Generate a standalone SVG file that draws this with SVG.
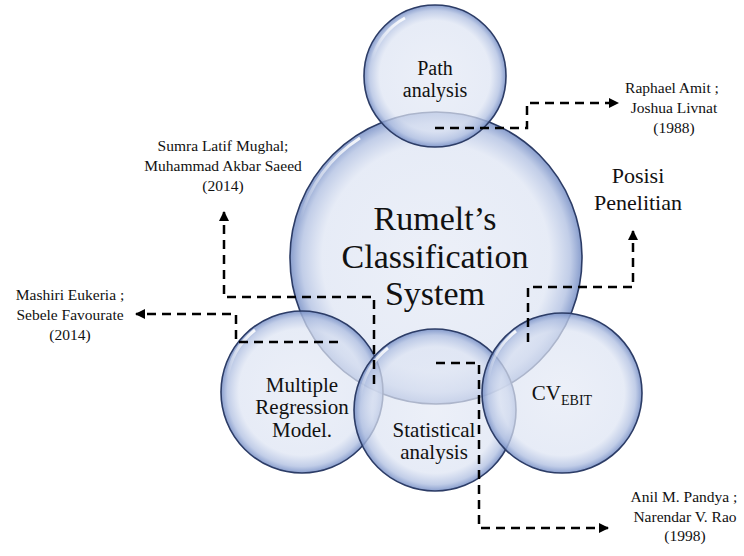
<svg xmlns="http://www.w3.org/2000/svg" width="744" height="556" viewBox="0 0 744 556">
<defs>
<radialGradient id="bub" cx="0.5" cy="0.5" r="0.5">
<stop offset="0" stop-color="#e4e9f5" stop-opacity="0.7"/>
<stop offset="0.78" stop-color="#dde4f3" stop-opacity="0.72"/>
<stop offset="0.92" stop-color="#b2c1e2" stop-opacity="0.8"/>
<stop offset="1" stop-color="#7890c6" stop-opacity="0.88"/>
</radialGradient>
<linearGradient id="hl" x1="0" y1="0" x2="0" y2="1">
<stop offset="0" stop-color="#ffffff" stop-opacity="0.9"/>
<stop offset="1" stop-color="#ffffff" stop-opacity="0"/>
</linearGradient>
<marker id="arr" viewBox="0 0 10 10" refX="9" refY="5" markerWidth="4" markerHeight="4" orient="auto" markerUnits="strokeWidth">
<path d="M0,0 L10,5 L0,10 z" fill="#000"/>
</marker>
</defs>
<style>
.c{fill:url(#bub);stroke:#2c3c66;stroke-width:1.6}
.h{fill:none;stroke:url(#hl);stroke-width:3}
text{font-family:'Liberation Serif','Times New Roman',serif;fill:#111;text-anchor:middle}
.lab{font-size:15.5px}
.d{fill:none;stroke:#000;stroke-width:2.5;stroke-dasharray:9,6}
</style>
<rect width="744" height="556" fill="#fff"/>
<g id="node-rumelt">
<circle class="c" cx="436" cy="258" r="146"/>
<path class="h" d="M300,220 A140,140 0 0 1 360,138"/>
<text font-size="34" x="435" y="230">Rumelt’s</text>
<text font-size="34" x="435" y="267.5">Classification</text>
<text font-size="34" x="435" y="305">System</text>
</g>
<g id="node-path">
<circle class="c" cx="435" cy="76" r="71"/>
<path class="h" d="M372,60 A66,66 0 0 1 405,18"/>
<text font-size="20" x="435" y="75">Path</text>
<text font-size="20" x="435" y="97">analysis</text>
</g>
<g id="node-mrm">
<circle class="c" cx="302" cy="392" r="81"/>
<path class="h" d="M227,380 A76,76 0 0 1 255,330"/>
<text font-size="21" x="302" y="392">Multiple</text>
<text font-size="21" x="302" y="414">Regression</text>
<text font-size="21" x="302" y="437">Model.</text>
</g>
<g id="node-stat">
<circle class="c" cx="435" cy="410" r="81"/>
<path class="h" d="M360,398 A76,76 0 0 1 388,348"/>
<text font-size="21" x="434" y="437">Statistical</text>
<text font-size="21" x="434" y="459">analysis</text>
</g>
<g id="node-cv">
<circle class="c" cx="562" cy="393" r="80"/>
<path class="h" d="M488,381 A75,75 0 0 1 516,331"/>
<text font-size="21" x="562" y="400"><tspan>CV</tspan><tspan font-size="14" dy="5">EBIT</tspan></text>
</g>
<g id="labels">
<g id="lab-raphael">
<text class="lab" x="672" y="93">Raphael Amit ;</text>
<text class="lab" x="674" y="113">Joshua Livnat</text>
<text class="lab" x="674" y="133">(1988)</text>
</g>
<g id="lab-sumra">
<text class="lab" x="223" y="151">Sumra Latif Mughal;</text>
<text class="lab" x="223" y="171">Muhammad Akbar Saeed</text>
<text class="lab" x="223" y="191">(2014)</text>
</g>
<g id="lab-mashiri">
<text class="lab" x="70" y="300">Mashiri Eukeria ;</text>
<text class="lab" x="70" y="320">Sebele Favourate</text>
<text class="lab" x="70" y="340">(2014)</text>
</g>
<g id="lab-posisi">
<text font-size="22" x="638" y="183">Posisi</text>
<text font-size="22" x="638" y="210">Penelitian</text>
</g>
<g id="lab-anil">
<text class="lab" x="684" y="502">Anil M. Pandya  ;</text>
<text class="lab" x="685" y="522">Narendar V. Rao</text>
<text class="lab" x="685" y="541">(1998)</text>
</g>
</g>
<g id="connectors">
<path class="d" d="M435,128 H527 V103 H618" marker-end="url(#arr)"/>
<path class="d" d="M374,384 V297 H224 V212" marker-end="url(#arr)"/>
<path class="d" d="M338,342 H236 V314 H136" marker-end="url(#arr)"/>
<path class="d" d="M528,342 V287 H633 V231" marker-end="url(#arr)"/>
<path class="d" d="M436,363 H479 V528 H608" marker-end="url(#arr)"/>
</g>
</svg>
